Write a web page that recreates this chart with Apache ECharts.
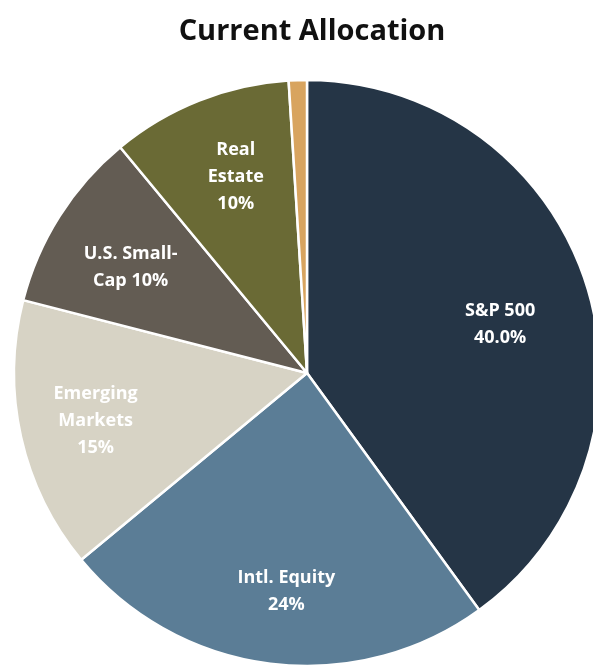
<!DOCTYPE html>
<html>
<head>
<meta charset="utf-8">
<style>
html,body{margin:0;padding:0;background:#fff;}
#chart{width:593px;height:667px;}
</style>
<script src="https://cdn.jsdelivr.net/npm/echarts@6/dist/echarts.min.js"></script>
</head>
<body>
<div id="chart"></div>
<script>
const categories = ['S&P 500', 'Intl. Equity', 'Emerging Markets', 'U.S. Small-Cap', 'Real Estate', 'Cash'];
const values = [40, 24, 15, 10, 10, 1];
const labelTexts = ['S&P 500\n40.0%', 'Intl. Equity\n24%', 'Emerging\nMarkets\n15%', 'U.S. Small-\nCap 10%', 'Real\nEstate\n10%', ''];
const colors = ['#253546', '#5b7d96', '#d7d3c5', '#635c53', '#6a6a35', '#d8a45f'];

const chart = echarts.init(document.getElementById('chart'), null, {renderer: 'canvas'});
const baseData = categories.map((c, i) => ({name: c, value: values[i], itemStyle: {color: colors[i]}}));
const labelData = categories.map((c, i) => ({name: c, value: values[i], label: {formatter: labelTexts[i]}}));

// small label nudges (style only) to mimic hand-placed labels of the original
const nudges = [[-9, 17], [6, 8], [-4, 2], [3, 8], [7, 1], [0, 0]];

chart.setOption({
  animation: false,
  title: {
    text: 'Current Allocation',
    left: 307,
    textAlign: 'center',
    top: 12,
    textStyle: {fontFamily: 'Open Sans', fontWeight: 'bold', fontSize: 29, color: '#111'}
  },
  series: [
    {
      type: 'pie',
      center: [307, 373],
      radius: [0, 293],
      startAngle: 90,
      clockwise: true,
      silent: true,
      label: {show: false},
      labelLine: {show: false},
      itemStyle: {borderColor: '#ffffff', borderWidth: 2.5},
      data: baseData
    },
    {
      type: 'pie',
      center: [307, 373],
      radius: [126, 293],
      startAngle: 90,
      clockwise: true,
      silent: true,
      itemStyle: {color: 'rgba(0,0,0,0)', borderWidth: 0},
      label: {
        show: true,
        position: 'inside',
        color: '#ffffff',
        fontFamily: 'Open Sans',
        fontWeight: 'bold',
        fontSize: 18,
        lineHeight: 27,
        align: 'center'
      },
      labelLayout: function (params) {
        const n = nudges[params.dataIndex] || [0, 0];
        return {dx: n[0], dy: n[1]};
      },
      labelLine: {show: false},
      data: labelData
    }
  ]
});
</script>
</body>
</html>
